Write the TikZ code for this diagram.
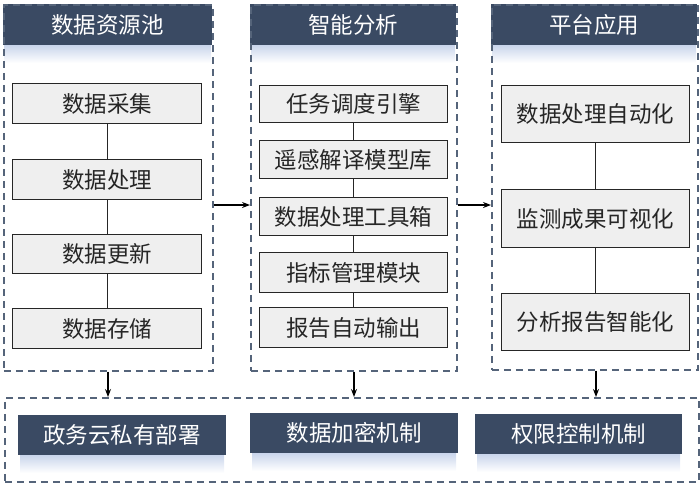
\documentclass[tikz,border=0pt]{standalone}
\usepackage{fontspec}
\newfontfamily\cjk{Noto Sans CJK SC}
\usetikzlibrary{arrows.meta}
\definecolor{hdr}{HTML}{3A4A63}
\definecolor{dashc}{HTML}{55647A}
\definecolor{boxfill}{HTML}{EFEFEF}
\definecolor{glow}{HTML}{C9D5EC}
\tikzset{
  dashbox/.style={draw=dashc, line width=1.5pt, dash pattern=on 7pt off 5pt, anchor=north west, inner sep=0pt},
  hdrbox/.style={fill=hdr, anchor=north west, inner sep=0pt, text=white, font=\cjk\fontsize{22.5}{26}\selectfont},
  itembox/.style={draw=black!85, line width=1.1pt, fill=boxfill, anchor=north west, inner sep=0pt, font=\cjk\fontsize{22.5}{26}\selectfont, text=black!85},
  basebox/.style={fill=hdr, anchor=north west, inner sep=0pt, text=white, font=\cjk\fontsize{22.5}{26}\selectfont},
  link/.style={draw=black!85, line width=1.1pt},
  arr/.style={draw=black, line width=1.1pt, -{Stealth[length=8pt,width=6pt]}}
}
\begin{document}
\begin{tikzpicture}[x=1pt,y=-1pt]
\useasboundingbox (0,0) rectangle (700,483);
% header glows
\shade[top color=glow, bottom color=white] (4,45) rectangle (211,63);
\shade[top color=glow, bottom color=white] (251,45) rectangle (455,63);
\shade[top color=glow, bottom color=white] (492,45) rectangle (696,63);
% headers
\node[hdrbox, minimum width=209pt, minimum height=41pt] (h1) at (3,4) {数据资源池};
\node[hdrbox, minimum width=206pt, minimum height=41pt] (h2) at (250,4) {智能分析};
\node[hdrbox, minimum width=206pt, minimum height=41pt] (h3) at (491,4) {平台应用};
% bottom glows
\shade[top color=glow, bottom color=white] (20,455) rectangle (224,473);
\shade[top color=glow, bottom color=white] (252,453) rectangle (456,471);
\shade[top color=glow, bottom color=white] (477,454) rectangle (680,472);
% dashed frames
\node[dashbox, minimum width=209pt, minimum height=366pt] (c1) at (3,4) {};
\node[dashbox, minimum width=206pt, minimum height=366pt] (c2) at (250,4) {};
\node[dashbox, minimum width=206pt, minimum height=365pt] (c3) at (491,4) {};
\node[dashbox, minimum width=694pt, minimum height=84pt] (base) at (4,397) {};
% column 1
\node[itembox, minimum width=189pt, minimum height=40pt] (a1) at (12,83) {数据采集};
\node[itembox, minimum width=189pt, minimum height=40pt] (a2) at (12,159) {数据处理};
\node[itembox, minimum width=189pt, minimum height=39pt] (a3) at (12,234) {数据更新};
\node[itembox, minimum width=189pt, minimum height=40pt] (a4) at (12,308) {数据存储};
% column 2
\node[itembox, minimum width=188pt, minimum height=37pt] (b1) at (259,85) {任务调度引擎};
\node[itembox, minimum width=188pt, minimum height=38pt] (b2) at (259,140) {遥感解译模型库};
\node[itembox, minimum width=188pt, minimum height=38pt] (b3) at (259,197) {数据处理工具箱};
\node[itembox, minimum width=188pt, minimum height=40pt] (b4) at (259,252) {指标管理模块};
\node[itembox, minimum width=188pt, minimum height=40pt] (b5) at (259,307) {报告自动输出};
% column 3
\node[itembox, minimum width=188pt, minimum height=57pt] (d1) at (501,85) {数据处理自动化};
\node[itembox, minimum width=188pt, minimum height=58pt] (d2) at (501,189) {监测成果可视化};
\node[itembox, minimum width=188pt, minimum height=57pt] (d3) at (501,293) {分析报告智能化};
% base boxes
\node[basebox, minimum width=208pt, minimum height=40pt] (e1) at (18,415) {政务云私有部署};
\node[basebox, minimum width=208pt, minimum height=40pt] (e2) at (250,413) {数据加密机制};
\node[basebox, minimum width=207pt, minimum height=40pt] (e3) at (475,414) {权限控制机制};
% links
\draw[link] (a1) -- (a2);
\draw[link] (a2) -- (a3);
\draw[link] (a3) -- (a4);
\draw[link] (b1) -- (b2);
\draw[link] (b2) -- (b3);
\draw[link] (b3) -- (b4);
\draw[link] (b4) -- (b5);
\draw[link] (d1) -- (d2);
\draw[link] (d2) -- (d3);
% arrows
\coordinate (ay) at (0,205);
\draw[arr] (c1.east |- ay) -- (c2.west |- ay);
\draw[arr] (c2.east |- ay) -- (c3.west |- ay);
\coordinate (x1) at (108,0);
\coordinate (x2) at (354,0);
\coordinate (x3) at (596,0);
\draw[arr] (x1 |- c1.south) -- (x1 |- base.north);
\draw[arr] (x2 |- c2.south) -- (x2 |- base.north);
\draw[arr] (x3 |- c3.south) -- (x3 |- base.north);
\end{tikzpicture}
\end{document}
